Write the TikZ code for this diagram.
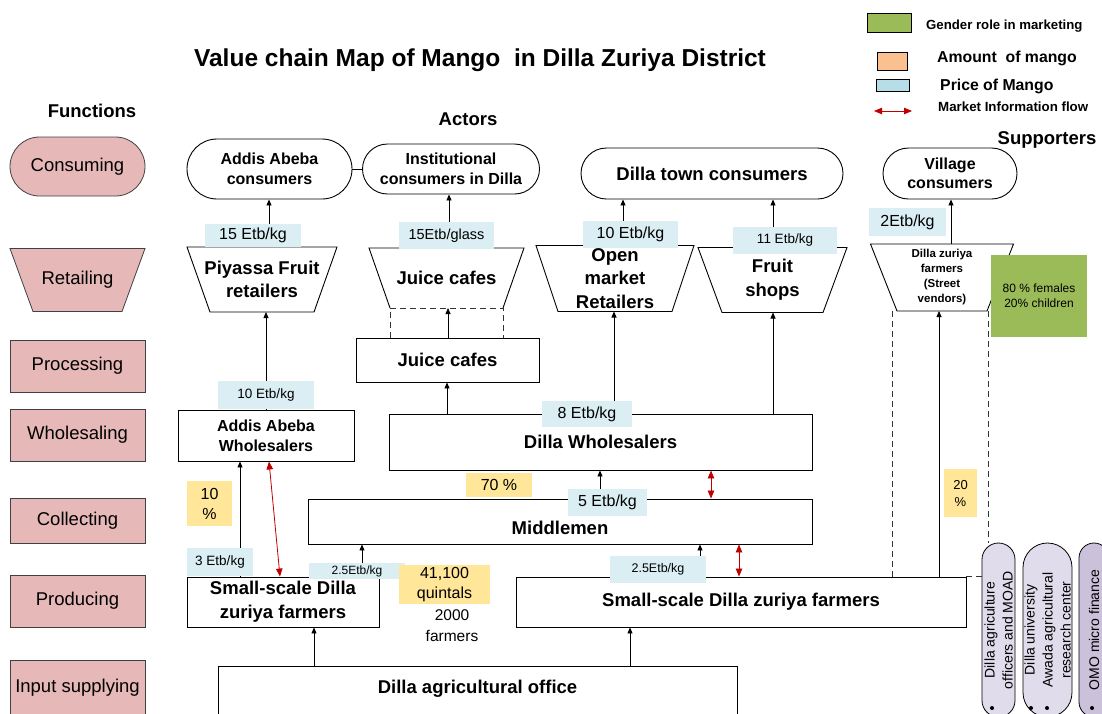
\documentclass[tikz,border=0pt]{standalone}
\usepackage{fontspec}
\setmainfont{Liberation Sans}
\usetikzlibrary{arrows.meta,calc,shapes.misc}
\pgfdeclarelayer{bg}
\pgfsetlayers{bg,main}
\definecolor{funcpink}{HTML}{E6B9B8}
\definecolor{pricebl}{HTML}{DAEEF3}
\definecolor{amtyel}{HTML}{FFE699}
\definecolor{legor}{HTML}{FAC090}
\definecolor{legbl}{HTML}{B7DEE8}
\definecolor{gendgr}{HTML}{9BBB59}
\definecolor{infored}{HTML}{C00000}
\definecolor{suppA}{HTML}{E1DCEB}
\definecolor{suppB}{HTML}{CCC1DA}
\definecolor{edgegray}{HTML}{404040}
\newcommand\fsz[2]{\fontsize{#1}{#2}\selectfont}
% trapezoid (wide top) around a node: name, half bottom width, half height, side offset
\newcommand\trapz[5][]{%
  \coordinate (#2-top) at ($(#2.center)+(0,-#4)$);
  \coordinate (#2-bot) at ($(#2.center)+(0,#4)$);
  \draw[line width=0.9pt,#1] ($(#2.center)+(-#3,#4)$) -- ($(#2.center)+(-#3-#5,-#4)$) -- ($(#2.center)+(#3+#5,-#4)$) -- ($(#2.center)+(#3,#4)$) -- cycle;}
\newcommand\trapzopen[4]{%
  \coordinate (#1-top) at ($(#1.center)+(0,-#3)$);
  \coordinate (#1-bot) at ($(#1.center)+(0,#3)$);
  \draw[line width=0.9pt] ($(#1.center)+(-#2,#3)$) -- ($(#1.center)+(-#2-#4,-#3)$) -- ($(#1.center)+(#2+#4,-#3)$) -- ($(#1.center)+(#2,#3)$);}
\tikzset{
  base/.style={inner sep=0pt, align=center},
  func/.style={base, draw=edgegray, fill=funcpink, line width=0.8pt, minimum width=135pt, font=\fsz{18.5}{21}},
  actor/.style={base, draw=black, fill=white, line width=0.9pt, font=\bfseries\fsz{18.5}{24}},
  consumer/.style={actor, rounded rectangle, font=\bfseries\fsz{16}{19.5}},
  retail/.style={base, font=\bfseries\fsz{18.5}{23}},
  price/.style={base, fill=pricebl, font=\fsz{16}{19}},
  amt/.style={base, fill=amtyel, font=\fsz{16}{20}},
  supp/.style={base, rounded rectangle, draw=black, line width=0.8pt, rotate=90, font=\fsz{14}{18}, minimum width=174pt},
  arr/.style={-{Triangle[length=6pt,width=5pt]}, line width=0.8pt, black},
  info/.style={{Triangle[length=8pt,width=6.5pt]}-{Triangle[length=8pt,width=6.5pt]}, line width=0.8pt, infored},
  dsh/.style={dash pattern=on 6pt off 4pt, line width=0.8pt, black!80},
  heading/.style={font=\bfseries\fsz{18.5}{22}},
  leg/.style={base, draw=black, line width=0.8pt},
}
\begin{document}
\begin{tikzpicture}[x=1pt,y=-1pt]
\useasboundingbox (0,0) rectangle (1102,713);
\clip (0,0) rectangle (1102,713);

% headings
\node[font=\bfseries\fsz{24.5}{27}] (title) at (480,60) {Value chain Map of Mango\ \ in Dilla Zuriya District};
\node[heading] (tfun) at (92,111) {Functions};
\node[heading] (tact) at (468,119) {Actors};
\node[heading] (tsup) at (1047,140) {Supporters};

% legend
\node[leg, fill=gendgr, minimum width=44pt, minimum height=19pt] (lg1) at (889,22.5) {};
\node[anchor=west, inner sep=0pt, font=\bfseries\fsz{13.2}{15}] (lg1t) at (926,26) {Gender role in marketing};
\node[leg, fill=legor, minimum width=30pt, minimum height=18pt] (lg2) at (892,61) {};
\node[anchor=west, inner sep=0pt, font=\bfseries\fsz{15.8}{18}] (lg2t) at (937,58) {Amount\ \ of mango};
\node[leg, fill=legbl, minimum width=33pt, minimum height=12pt] (lg3) at (892.5,85) {};
\node[anchor=west, inner sep=0pt, font=\bfseries\fsz{15.8}{18}] (lg3t) at (940,86) {Price of Mango};
\coordinate (lg4a) at (874,111);
\coordinate (lg4b) at (912,111);
\node[anchor=west, inner sep=0pt, font=\bfseries\fsz{13.3}{15}] (lg4t) at (938,107) {Market Information flow};

% functions
\node[func, rounded rectangle, minimum height=59pt] (fcons) at (77.5,166.5) {Consuming};
\node[base, font=\fsz{18.5}{21}] (fret) at (77.5,280) {Retailing};
\node[func, minimum height=52pt] (fproc) at (77.5,366) {Processing};
\node[func, minimum height=52pt] (fwhol) at (77.5,435) {Wholesaling};
\node[func, minimum height=45pt] (fcoll) at (77.5,520.5) {Collecting};
\node[func, minimum height=52pt] (fprod) at (77.5,601) {Producing};
\node[func, minimum height=56pt] (finp) at (77.5,688) {Input supplying};
\begin{pgfonlayer}{bg}
\trapz[fill=funcpink,draw=edgegray,line width=0.8pt]{fret}{44.5}{31.5}{23}
\end{pgfonlayer}

% consumers
\node[consumer, minimum width=165pt, minimum height=60pt] (addc) at (269.5,169) {Addis Abeba\\consumers};
\node[consumer, minimum width=177pt, minimum height=50pt] (inst) at (451,169) {Institutional\\consumers in Dilla};
\node[consumer, minimum width=262pt, minimum height=51pt, font=\bfseries\fsz{18.5}{22}] (dtc) at (712,173.5) {Dilla town consumers};
\node[consumer, minimum width=134pt, minimum height=51pt] (vill) at (950,173.5) {Village\\consumers};
\draw[line width=0.9pt] (addc.east) -- (inst.west);

% retailers
\node[retail] (piy) at (262,279.5) {Piyassa Fruit\\retailers};
\node[retail] (jret) at (446.5,278) {Juice cafes};
\node[retail, font=\bfseries\fsz{18.5}{23.5}] (open) at (615,278.5) {Open\\market\\Retailers};
\node[retail, font=\bfseries\fsz{18.5}{24}] (fruit) at (772.5,280) {Fruit\\shops};
\node[retail, font=\bfseries\fsz{11.5}{15}] (street) at (942,277.5) {Dilla zuriya\\farmers\\(Street\\vendors)};
\trapz{piy}{52}{32.5}{23}
\trapzopen{jret}{56.5}{30}{21}
\trapz{open}{57}{33}{22}
\trapz{fruit}{50.5}{32.5}{24}
\trapz{street}{45}{33.5}{26.5}

% processing
\node[actor, minimum width=183pt, minimum height=44pt] (jproc) at (447.5,360) {Juice cafes};
% wholesaling
\node[actor, minimum width=176pt, minimum height=51pt, font=\bfseries\fsz{16}{20}] (aaw) at (266,435.5) {Addis Abeba\\Wholesalers};
\node[actor, minimum width=423pt, minimum height=56pt] (dw) at (600.5,442) {Dilla Wholesalers};
% collecting
\node[actor, minimum width=504pt, minimum height=45pt, label={[font=\bfseries\fsz{18.5}{22}, yshift=-6.5pt]center:Middlemen}] (mid) at (560,521.5) {};
% producing
\node[actor, minimum width=192pt, minimum height=50pt] (farmL) at (283,602) {Small-scale Dilla\\zuriya farmers};
\node[actor, minimum width=450pt, minimum height=50pt] (farmR) at (741,602) {Small-scale Dilla zuriya farmers};
% input supplying
\node[actor, minimum width=519pt, minimum height=60pt, label={[font=\bfseries\fsz{18.5}{22}, yshift=7pt]center:Dilla agricultural office}] (office) at (477.5,696) {};

% supporters
\node[supp, fill=suppA, minimum height=33pt] (s1) at (998.5,630) {Dilla agriculture\\officers and MOAD};
\node[supp, fill=suppA, minimum height=49pt] (s2) at (1047.5,630) {Dilla university\\Awada agricultural\\research center};
\node[supp, fill=suppB, minimum height=30pt] (s3) at (1094,630) {OMO micro finance};
\fill (992,708) circle (2pt);
\fill (1031,708) circle (2pt);
\fill (1047,708) circle (2pt);
\fill (1092,708) circle (2pt);

% dashed links
\draw[dsh] (jproc.north -| 390,0) -- (jret-bot -| 390,0) -- (jret-bot -| 503,0) -- (jproc.north -| 503,0);
\draw[dsh] (street-bot -| 892,0) -- (farmR.north -| 892,0);
\draw[dsh] (street-bot -| 988,0) -- (s1.east -| 988,0);
\draw[dsh] (farmR.north east) -- (farmR.north east -| s1.north);

% flows
\draw[arr] (piy-top -| 269,0) -- (addc.south -| 269,0);
\draw[arr] (jret-top -| 449,0) -- (inst.south -| 449,0);
\draw[arr] (open-top -| 623,0) -- (dtc.south -| 623,0);
\draw[arr] (fruit-top -| 773,0) -- (dtc.south -| 773,0);
\draw[arr] (street-top -| 951,0) -- (vill.south -| 951,0);
\draw[arr] (aaw.north -| 266,0) -- (piy-bot -| 266,0);
\draw[arr] (dw.north -| 447,0) -- (jproc.south -| 447,0);
\draw[arr] (dw.north -| 614,0) -- (open-bot -| 614,0);
\draw[arr] (dw.north -| 773,0) -- (fruit-bot -| 773,0);
\draw[arr] (jproc.north -| 448,0) -- (jret-bot -| 448,0);
\draw[arr] (mid.north -| 600,0) -- (dw.south -| 600,0);
\draw[arr] (farmR.north -| 700,0) -- (mid.south -| 700,0);
\draw[arr] (farmL.north -| 362,0) -- (mid.south -| 362,0);
\draw[arr] (farmL.north -| 240,0) -- (aaw.south -| 240,0);
\draw[arr] (office.north -| 314,0) -- (farmL.south -| 314,0);
\draw[arr] (office.north -| 630,0) -- (farmR.south -| 630,0);
\draw[arr] (farmR.north -| 939,0) -- (street-bot -| 939,0);

% market information
\draw[info] (aaw.south -| 269,0) -- (farmL.north -| 280,0);
\draw[info] (dw.south -| 711,0) -- (mid.north -| 711,0);
\draw[info] (mid.south -| 739,0) -- (farmR.north -| 739,0);
\draw[info] (lg4a) -- (lg4b);

% prices
\node[price, minimum width=96pt, minimum height=23pt] (p1) at (253,235.5) {15 Etb/kg};
\node[price, minimum width=95pt, minimum height=27pt, font=\fsz{14.5}{17}] (p2) at (446.5,235.5) {15Etb/glass};
\node[price, minimum width=95pt, minimum height=27pt] (p3) at (630.5,234.5) {10 Etb/kg};
\node[price, minimum width=104pt, minimum height=27pt, font=\fsz{13.5}{16}] (p4) at (785,240.5) {11 Etb/kg};
\node[price, minimum width=77pt, minimum height=28pt] (p5) at (907.5,222) {2Etb/kg};
\node[price, minimum width=96pt, minimum height=28pt, font=\fsz{13.5}{16}] (p6) at (266,395) {10 Etb/kg};
\node[price, minimum width=90pt, minimum height=26pt] (p7) at (587,414) {8 Etb/kg};
\node[price, minimum width=79pt, minimum height=27pt] (p8) at (607.5,502.5) {5 Etb/kg};
\node[price, minimum width=96pt, minimum height=27pt, font=\fsz{12.5}{15}] (p9) at (658,569.5) {2.5Etb/kg};
\node[price, minimum width=66pt, minimum height=28pt, font=\fsz{13.5}{16}] (p10) at (220,562) {3 Etb/kg};
\node[price, minimum width=96pt, minimum height=16pt, font=\fsz{12}{14}] (p11) at (357,571) {2.5Etb/kg};

% amounts
\node[amt, minimum width=45pt, minimum height=45pt] (a1) at (209.5,503.5) {10\\\%};
\node[amt, minimum width=66pt, minimum height=24pt] (a2) at (499,485) {70 \%};
\node[amt, minimum width=91pt, minimum height=39pt] (a3) at (444.5,584.5) {41,100\\quintals};
\node[amt, minimum width=33pt, minimum height=48pt, font=\fsz{13}{17}] (a4) at (960.5,493) {20\\\%};
\node[base, font=\fsz{15.5}{21}] (nfarm) at (452,626) {2000\\farmers};

% gender role
\node[base, fill=gendgr, minimum width=96pt, minimum height=82pt, font=\fsz{12}{15}] (gend) at (1039,296) {80 \% females\\20\% children};
\end{tikzpicture}
\end{document}
